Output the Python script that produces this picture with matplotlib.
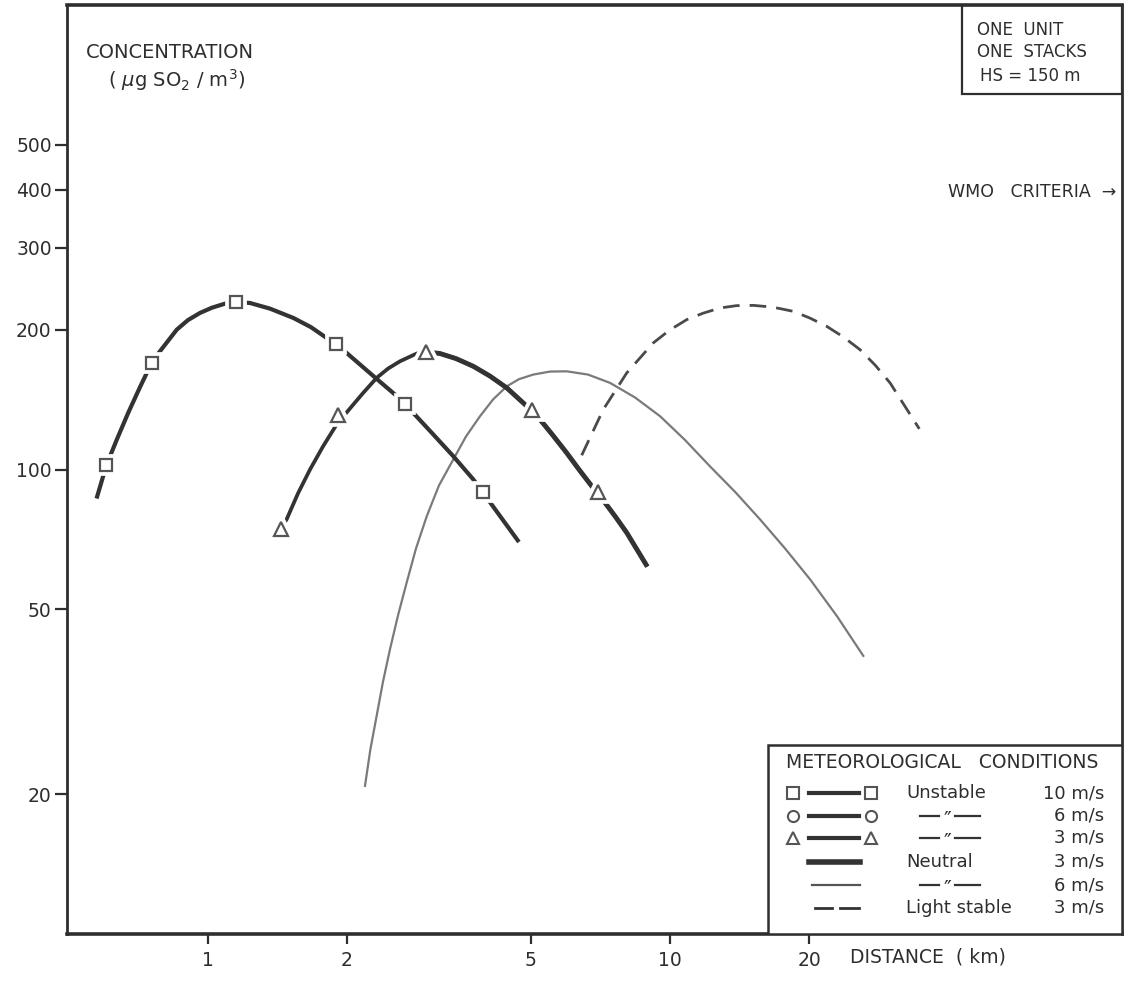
import matplotlib
matplotlib.use("Agg")
import matplotlib.pyplot as plt
from matplotlib.patches import Rectangle
from matplotlib.lines import Line2D
from matplotlib.ticker import NullLocator, FixedLocator, FixedFormatter

plt.rcParams['font.family'] = ['DejaVu Sans']

# ---------------- data ----------------
# Unstable 10 m/s  (squares)
unst10_line_x = [0.574, 0.603, 0.635, 0.672, 0.712, 0.755, 0.787, 0.856, 0.905, 0.961,
                 1.020, 1.088, 1.148, 1.233, 1.362, 1.530, 1.671, 1.807, 1.892, 1.996,
                 2.318, 2.540, 2.67, 2.760, 3.054, 3.396, 3.752, 3.93, 4.11, 4.71]
unst10_line_y = [86.6, 102.2, 116.0, 132.4, 150.1, 169.6, 179.6, 200.0, 209.7, 217.3,
                 223.0, 227.5, 229.4, 228.3, 222.0, 212.0, 202.5, 191.9, 186.6, 178.2,
                 156.7, 145.0, 138.5, 133.5, 119.8, 106.8, 95.2, 89.5, 84.1, 69.8]
unst10_pts_x = [0.603, 0.755, 1.148, 1.892, 2.67, 3.93]
unst10_pts_y = [102.2, 169.6, 229.4, 186.6, 138.5, 89.5]

# Unstable 3 m/s  (triangles)
unst3_line_x = [1.437, 1.480, 1.566, 1.663, 1.774, 1.899, 2.029, 2.165, 2.318,
                2.453, 2.604, 2.830, 2.964, 3.178, 3.442, 3.752, 4.077, 4.432, 4.855,
                5.232, 5.581, 5.975, 6.353, 6.77, 7.234, 7.642, 8.06, 8.93]
unst3_line_y = [74.6, 78.1, 88.8, 100.0, 112.1, 125.0, 135.3, 146.0, 157.5,
                164.9, 171.0, 177.7, 179.1, 177.7, 173.3, 166.8, 158.9, 149.9, 138.0,
                128.1, 118.4, 108.6, 100.0, 92.1, 84.8, 78.8, 73.1, 61.8]
unst3_pts_x = [1.437, 1.909, 2.964, 5.02, 6.997]
unst3_pts_y = [74.6, 130.9, 179.1, 134.1, 89.4]

# Neutral 3 m/s (thick, coincides with the falling part of the 3 m/s curve)
neut3_x = [2.964, 3.178, 3.442, 3.752, 4.077, 4.432, 4.855, 5.232, 5.581, 5.975,
           6.353, 6.77, 7.234, 7.642, 8.06, 8.93]
neut3_y = [179.1, 177.7, 173.3, 166.8, 158.9, 149.9, 138.0, 128.1, 118.4, 108.6,
           100.0, 92.1, 84.8, 78.8, 73.1, 61.8]

# Neutral 6 m/s (thin)
neut6_x = [2.187, 2.247, 2.318, 2.392, 2.477, 2.578, 2.692, 2.820, 2.975, 3.162,
           3.396, 3.618, 3.879, 4.140, 4.432, 4.712, 5.06, 5.500, 5.975, 6.645,
           7.42, 8.40, 9.52, 10.78, 12.2, 13.83, 15.66, 17.74, 20.1, 22.99, 26.2]
neut6_y = [20.84, 25.0, 29.5, 34.9, 41.0, 48.5, 57.1, 67.6, 79.3, 92.4,
           105.1, 117.8, 130.2, 141.5, 151.0, 156.5, 160.1, 162.5, 162.7, 160.1,
           153.6, 142.9, 130.2, 115.7, 101.6, 89.5, 78.1, 67.6, 58.0, 48.3, 39.7]

# Light stable 3 m/s (dashed)
light3_x = [6.44, 7.17, 8.06, 9.20, 9.975, 10.87, 11.79, 12.83, 13.93, 15.15, 16.71,
            18.49, 20.09, 21.84, 23.74, 25.78, 27.85, 29.94, 34.64]
light3_y = [107.3, 134.6, 161.4, 187.3, 199.5, 210.2, 217.0, 222.7, 225.3, 225.6, 223.6,
            219.0, 211.8, 203.3, 192.8, 181.1, 167.4, 153.6, 122.3]

x_ticks = [1, 2, 5, 10, 20]
x_ticklabels = ["1", "2", "5", "10", "20"]
y_ticks = [20, 50, 100, 200, 300, 400, 500]
y_ticklabels = ["20", "50", "100", "200", "300", "400", "500"]

legend_rows = [("s", "Unstable", "10 m/s"),
               ("o", None, "6 m/s"),
               ("^", None, "3 m/s"),
               ("thick", "Neutral", "3 m/s"),
               ("thin", None, "6 m/s"),
               ("dash", "Light stable", "3 m/s")]

# ---------------- figure ----------------
W, H = 1125, 982
fig = plt.figure(figsize=(W / 100, H / 100), dpi=100)
L, R, T, B = 67, 1122, 5, 934
ax = fig.add_axes([L / W, 1 - B / H, (R - L) / W, (B - T) / H])
ax.set_xscale('log')
ax.set_yscale('log')
ax.set_xlim(0.4954, 95.1)
ax.set_ylim(10.0, 1000.0)

INK = '#2e2e2e'
ax.plot(unst10_line_x, unst10_line_y, color='#333333', lw=3.0, solid_capstyle='butt',
        solid_joinstyle='round', zorder=3)
ax.plot(unst3_line_x, unst3_line_y, color='#333333', lw=2.7, solid_capstyle='butt',
        solid_joinstyle='round', zorder=3)
ax.plot(neut3_x, neut3_y, color='#333333', lw=3.5, solid_capstyle='butt',
        solid_joinstyle='round', zorder=3)
ax.plot(neut6_x, neut6_y, color='#7a7a7a', lw=1.6, solid_joinstyle='round', zorder=2)
dl, = ax.plot(light3_x, light3_y, color='#4a4a4a', lw=2.0, solid_capstyle='butt', zorder=2)
dl.set_dashes((6.0, 3.6))
dl.set_dash_capstyle('butt')

for xs, ys, m, ms in [(unst10_pts_x, unst10_pts_y, 's', 8.5), (unst3_pts_x, unst3_pts_y, '^', 9.5)]:
    ax.plot(xs, ys, ls='none', marker=m, ms=ms, mfc='white', mec='white', mew=7, zorder=4)
    ax.plot(xs, ys, ls='none', marker=m, ms=ms, mfc='white', mec='#555555', mew=1.6, zorder=5)

# axes styling
for s in ax.spines.values():
    s.set_color(INK)
    s.set_linewidth(2.0)
ax.spines['bottom'].set_linewidth(2.6)
ax.spines['top'].set_linewidth(2.6)
ax.xaxis.set_major_locator(FixedLocator(x_ticks))
ax.xaxis.set_major_formatter(FixedFormatter(x_ticklabels))
ax.yaxis.set_major_locator(FixedLocator(y_ticks))
ax.yaxis.set_major_formatter(FixedFormatter(y_ticklabels))
ax.xaxis.set_minor_locator(NullLocator())
ax.yaxis.set_minor_locator(NullLocator())
ax.tick_params(axis='both', direction='out', color=INK, labelcolor=INK, labelsize=13.5, width=1.6)
ax.tick_params(axis='x', length=7, pad=5)
ax.tick_params(axis='y', length=9, pad=2)


def AX(px):
    return (px - L) / (R - L)


def AY(py):
    return (B - py) / (B - T)


tr = ax.transAxes
kw = dict(transform=tr, color=INK, zorder=10)

# axis titles
ax.text(AX(86), AY(52), "CONCENTRATION", fontsize=14, ha='left', va='center', **kw)
ax.text(AX(108), AY(80), r"( $\mu$g SO$_2$ / m$^3$)", fontsize=14, ha='left', va='center', **kw)
ax.text(AX(850), AY(957), "DISTANCE  ( km)", fontsize=13.5, ha='left', va='center',
        transform=tr, color=INK, clip_on=False)

# top-right info box
ax.add_patch(Rectangle((AX(962), AY(94)), AX(1122) - AX(962), AY(5) - AY(94), transform=tr,
                       fill=False, ec=INK, lw=1.6, zorder=9))
ax.text(AX(977), AY(30), "ONE  UNIT", fontsize=12, ha='left', va='center', **kw)
ax.text(AX(977), AY(52), "ONE  STACKS", fontsize=12, ha='left', va='center', **kw)
ax.text(AX(980), AY(76), "HS = 150 m", fontsize=12, ha='left', va='center', **kw)

ax.text(AX(1116), AY(192), "WMO   CRITERIA  \u2192", fontsize=12.5, ha='right', va='center', **kw)

# legend box
ax.add_patch(Rectangle((AX(768), AY(934)), AX(1122) - AX(768), AY(745) - AY(934), transform=tr,
                       facecolor='white', ec=INK, lw=1.8, zorder=9))
ax.text(AX(942), AY(762), "METEOROLOGICAL   CONDITIONS", fontsize=13.5, ha='center', va='center', **kw)

row_y = [793, 816, 838, 862, 885, 908]
for (kind, name, speed), py in zip(legend_rows, row_y):
    y = AY(py)
    if kind in ('s', 'o', '^'):
        ms = 8 if kind != '^' else 9
        ax.add_line(Line2D([AX(809), AX(859)], [y, y], transform=tr, color='#333333', lw=3.0, zorder=11))
        for mx in (793, 871):
            ax.add_line(Line2D([AX(mx)], [y], transform=tr, ls='none', marker=kind, ms=ms,
                               mfc='white', mec='#555555', mew=1.5, zorder=11))
    elif kind == 'thick':
        ax.add_line(Line2D([AX(809), AX(860)], [y, y], transform=tr, color='#333333', lw=4.0, zorder=11))
    elif kind == 'thin':
        ax.add_line(Line2D([AX(812), AX(860)], [y, y], transform=tr, color='#555555', lw=1.6, zorder=11))
    elif kind == 'dash':
        ax.add_line(Line2D([AX(815), AX(832)], [y, y], transform=tr, color='#333333', lw=2.0, zorder=11))
        ax.add_line(Line2D([AX(840), AX(859)], [y, y], transform=tr, color='#333333', lw=2.0, zorder=11))
    if name is None:
        ax.add_line(Line2D([AX(920), AX(939)], [y, y], transform=tr, color='#333333', lw=1.6, zorder=11))
        ax.add_line(Line2D([AX(955), AX(980)], [y, y], transform=tr, color='#333333', lw=1.6, zorder=11))
        ax.text(AX(947), AY(py + 5), "\u2033", fontsize=15, ha='center', va='center', **kw)
    else:
        ax.text(AX(906), y, name, fontsize=13, ha='left', va='center', **kw)
    ax.text(AX(1104), y, speed, fontsize=13, ha='right', va='center', **kw)

fig.savefig("out.png", dpi=100, facecolor='white')
